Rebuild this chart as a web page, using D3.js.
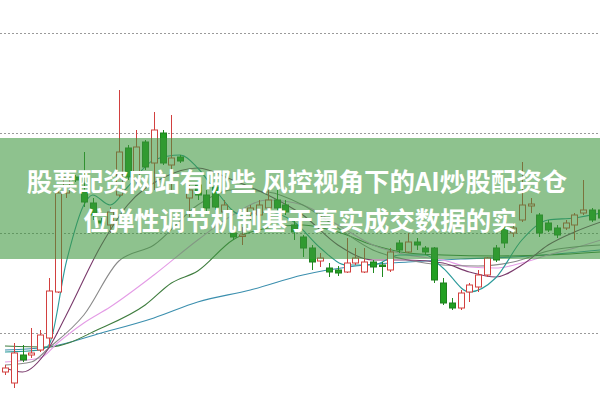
<!DOCTYPE html>
<html><head><meta charset="utf-8">
<script src="https://cdn.jsdelivr.net/npm/d3@7"></script>
<style>html,body{margin:0;padding:0;background:#fff;overflow:hidden}</style>
</head><body>
<svg id="c" width="600" height="400"></svg>
<script>
// ---- data (price units) ----
const gridLevels = [10, 20, 30, 40];
const opens  = [6.1,5.0,7.8,7.8,8.3,9.5,14.1,24.0,25.6,24.1,23.0,21.2,20.8,23.8,28.5,25.3,29.1,27.0,30.0,26.8,27.6,23.5,24.8,23.8,24.6,22.1,20.0,19.7,22.0,21.8,22.5,23.3,22.8,20.8,19.6,18.5,17.2,16.5,16.3,16.1,17.0,16.1,17.1,16.8,16.3,19.0,18.1,19.1,18.5,18.5,15.0,13.0,12.5,14.1,14.6,15.8,18.5,20.5,20.0,21.3,22.7,21.8,21.0,20.5,20.5,20.8,22.0,22.3,22.3];
const highs  = [6.8,9.0,8.8,10.5,10.3,15.5,24.6,26.3,25.8,28.1,23.5,21.5,22.6,34.3,28.8,30.3,29.3,32.1,30.3,31.8,27.8,24.8,25.3,24.3,25.0,23.3,20.3,20.6,22.8,23.3,24.3,24.3,23.3,21.3,19.8,18.8,18.0,17.0,16.7,19.5,18.5,18.5,17.3,17.1,18.5,19.3,20.0,19.5,18.7,18.6,15.5,13.5,14.3,15.0,16.3,17.6,18.8,21.0,21.0,27.1,23.5,22.0,21.3,20.8,21.3,22.0,25.3,22.5,22.5];
const lows   = [5.8,4.5,7.1,7.5,8.1,8.6,14.0,23.5,25.1,22.6,21.3,20.7,20.0,23.6,25.3,24.3,26.3,24.3,26.8,24.3,27.0,21.6,23.3,22.1,22.3,21.8,19.3,18.8,21.3,21.3,22.3,22.1,21.8,19.3,17.6,16.3,16.6,15.6,15.7,16.0,16.8,16.0,16.0,15.6,16.1,18.0,18.0,18.3,17.8,15.0,12.8,12.3,12.3,13.1,14.1,15.6,17.1,18.5,19.6,21.1,22.0,19.6,20.1,19.5,20.3,19.3,21.8,21.1,21.3];
const closes = [6.5,8.0,7.3,8.0,9.8,14.2,24.0,25.5,25.3,23.1,21.8,21.0,22.1,28.1,25.6,28.6,26.6,30.3,27.0,27.5,27.2,24.3,23.8,22.5,22.6,22.8,19.6,19.8,22.5,22.8,23.3,22.5,22.1,20.1,18.5,17.1,17.5,16.1,16.0,17.0,17.5,17.1,16.6,16.7,18.1,18.3,19.1,18.8,18.1,15.3,13.0,12.5,14.0,14.8,15.8,17.5,17.3,19.0,20.5,22.8,22.9,20.0,20.3,19.8,21.0,21.8,22.3,21.3,21.5];

// moving-average lines: [candle index, price]
const ma5  = [[0,8.1],[4,8.3],[5,8.8],[7,17.1],[9,22.8],[10,23.8],[12,22.8],[14,24.6],[17,27.3],[20,27.8],[22,26.5],[24,24.3],[27,21.8],[30,22.1],[33,21.1],[36,18.5],[39,16.8],[42,16.8],[45,17.8],[48,17.8],[50,16.5],[53,14.1],[56,15.5],[59,19.3],[62,21.3],[65,21.5],[68,22.0]];
const ma10 = [[0,6.5],[2,6.1],[5,8.5],[7,11.8],[11,18.8],[14,22.8],[18,25.5],[22,26.5],[26,25.3],[30,23.8],[34,21.8],[38,18.8],[42,17.3],[46,17.3],[50,17.0],[53,16.1],[56,15.6],[59,16.8],[62,18.8],[65,20.1],[68,21.1]];
const ma13 = [[0,6.8],[3,7.1],[5,8.5],[9,11.8],[13,17.2],[17,18.8],[22,22.8],[26,24.3],[30,24.1],[34,22.8],[38,20.5],[42,18.3],[46,17.3],[50,16.8],[54,16.7],[58,17.1],[62,18.2],[68,18.8]];
const ma20 = [[0,7.1],[4,7.5],[6,9.0],[9,11.0],[12,12.6],[17,15.8],[22,19.3],[26,21.8],[30,23.3],[34,22.8],[38,20.8],[42,18.8],[46,17.8],[50,17.3],[53,16.6],[56,16.5],[59,17.0],[62,17.8],[65,18.5],[68,19.3]];
const ma30 = [[0,8.7],[5,8.6],[11,10.5],[16,12.8],[19,15.0],[22,16.2],[26,19.3],[30,20.5],[34,20.8],[38,20.1],[42,18.8],[46,18.0],[50,17.8],[56,17.7],[62,17.8],[68,18.1]];
const ma60 = [[0,8.3],[5,8.6],[11,10.0],[17,11.5],[22,13.1],[28,14.3],[34,15.8],[40,16.7],[46,17.1],[52,17.4],[58,17.6],[63,17.9],[68,18.3]];

const titleLines = ["股票配资网站有哪些 风控视角下的AI炒股配资仓", "位弹性调节机制基于真实成交数据的实"];

// ---- drawing ----
const svg = d3.select("#c");
const W = 600, H = 400;
const x = d3.scaleLinear().domain([0, opens.length - 1]).range([5, 600.7]);
const y = d3.scaleLinear().domain([10, 40]).range([333, 33]);

svg.append("rect").attr("width", W).attr("height", H).attr("fill", "#fff");

svg.append("g").selectAll("line").data(gridLevels).join("line")
  .attr("x1", 0).attr("x2", W)
  .attr("y1", d => Math.round(y(d)) + 0.5).attr("y2", d => Math.round(y(d)) + 0.5)
  .attr("stroke", "#9a9a9a").attr("stroke-width", 1).attr("stroke-dasharray", "2,2");

const line = d3.line().x(d => x(d[0])).y(d => y(d[1])).curve(d3.curveMonotoneX);
const maDefs = [
  {d: ma60, c: "#3b8fae"},
  {d: ma30, c: "#3f7d3f"},
  {d: ma20, c: "#e49ce6"},
  {d: ma13, c: "#8a8a8a"},
  {d: ma10, c: "#7a3a6c"},
  {d: ma5,  c: "#2b9a9a"}
];
svg.append("g").selectAll("path").data(maDefs).join("path")
  .attr("d", m => line(m.d)).attr("fill", "none")
  .attr("stroke", m => m.c).attr("stroke-width", 1.1);

const idx = d3.range(opens.length);
const bw = 6;
const cg = svg.append("g");
const up = i => closes[i] >= opens[i];
cg.selectAll("line").data(idx).join("line")
  .attr("x1", i => Math.round(x(i)) + 0.5).attr("x2", i => Math.round(x(i)) + 0.5)
  .attr("y1", i => y(highs[i])).attr("y2", i => y(lows[i]))
  .attr("stroke", i => up(i) ? "#d2403f" : "#1f8a1f").attr("stroke-width", 1);
cg.selectAll("rect").data(idx).join("rect")
  .attr("x", i => Math.round(x(i)) + 0.5 - bw / 2)
  .attr("y", i => y(Math.max(opens[i], closes[i])))
  .attr("width", bw)
  .attr("height", i => Math.max(1.5, Math.abs(y(opens[i]) - y(closes[i]))))
  .attr("fill", i => up(i) ? "#fff" : "#22a022")
  .attr("stroke", i => up(i) ? "#d2403f" : "#1f7f1f").attr("stroke-width", 1);

// title banner
svg.append("rect").attr("x", 0).attr("y", 138).attr("width", W).attr("height", 121)
  .attr("fill", "rgba(60,150,60,0.58)");
svg.append("g").selectAll("text").data(titleLines).join("text")
  .attr("x", (d, i) => i === 0 ? 297 : 300)
  .attr("y", (d, i) => i === 0 ? 191 : 230)
  .attr("text-anchor", "middle")
  .attr("font-family", "'Noto Sans CJK SC', sans-serif")
  .attr("font-weight", "bold").attr("font-size", 25.5)
  .attr("fill", "#fff")
  .text(d => d);
</script>
</body></html>
